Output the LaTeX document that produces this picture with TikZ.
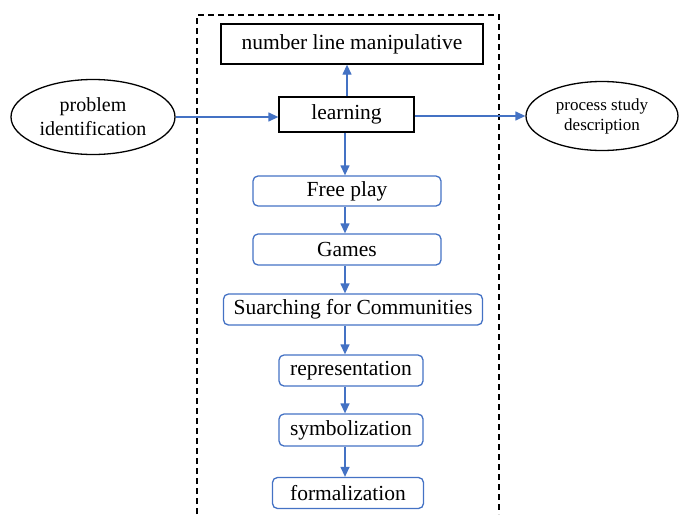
\documentclass[tikz,border=0pt]{standalone}
\usepackage{fontspec}
\setmainfont{Liberation Serif}
\usetikzlibrary{arrows.meta,shapes.geometric}
\definecolor{flowblue}{RGB}{68,114,196}
\begin{document}
\begin{tikzpicture}[x=1pt,y=-1pt,
  plainbox/.style={draw=black,line width=1.3pt,rectangle,inner sep=0pt,
    font=\fontsize{21.5}{24}\selectfont},
  flowbox/.style={draw=flowblue,line width=1.3pt,rectangle,rounded corners=5pt,inner sep=0pt,
    font=\fontsize{21.5}{24}\selectfont},
  endell/.style={draw=black,line width=1.3pt,ellipse,inner sep=0pt,align=center},
  flowarrow/.style={draw=flowblue,line width=1.3pt,-{Triangle[length=10pt,width=9pt]}},
  frame/.style={draw=black,line width=1.2pt,dash pattern=on 6pt off 4pt}
]
\useasboundingbox (0,0) rectangle (679,514);
% dashed frame (open at the bottom)
\draw[frame] (197,514) -- (197,15) -- (499,15) -- (499,514);

\node[plainbox,minimum width=262pt,minimum height=40pt] (nlm) at (352,44) {number line manipulative};
\node[plainbox,minimum width=135pt,minimum height=35pt] (learn) at (346.5,114.5) {learning};

\node[endell,minimum width=164pt,minimum height=75pt,font=\fontsize{20}{24}\selectfont] (pi) at (93,117) {problem\\identification};
\node[endell,minimum width=152pt,minimum height=69pt,font=\fontsize{17}{20}\selectfont] (psd) at (602,116) {process study\\description};

\node[flowbox,minimum width=188pt,minimum height=30pt] (fp) at (347,191) {Free play};
\node[flowbox,minimum width=188pt,minimum height=31pt] (gm) at (347,249.5) {Games};
\node[flowbox,minimum width=259pt,minimum height=31pt] (sc) at (353,309.5) {Suarching for Communities};
\node[flowbox,minimum width=144pt,minimum height=31pt] (rep) at (351,370.5) {representation};
\node[flowbox,minimum width=144pt,minimum height=32pt] (sym) at (351,430) {symbolization};
\node[flowbox,minimum width=151pt,minimum height=31pt] (form) at (348,493) {formalization};

\coordinate (ax) at (345,0);
\coordinate (upx) at (347,0);

\draw[flowarrow] (pi.east) -- (pi.east -| learn.west);
\draw[flowarrow] (learn.east |- psd.west) -- (psd.west);
\draw[flowarrow] (learn.north -| upx) -- (nlm.south -| upx);
\draw[flowarrow] (learn.south -| ax) -- (fp.north -| ax);
\draw[flowarrow] (fp.south -| ax) -- (gm.north -| ax);
\draw[flowarrow] (gm.south -| ax) -- (sc.north -| ax);
\draw[flowarrow] (sc.south -| ax) -- (rep.north -| ax);
\draw[flowarrow] (rep.south -| ax) -- (sym.north -| ax);
\draw[flowarrow] (sym.south -| ax) -- (form.north -| ax);
\end{tikzpicture}
\end{document}
